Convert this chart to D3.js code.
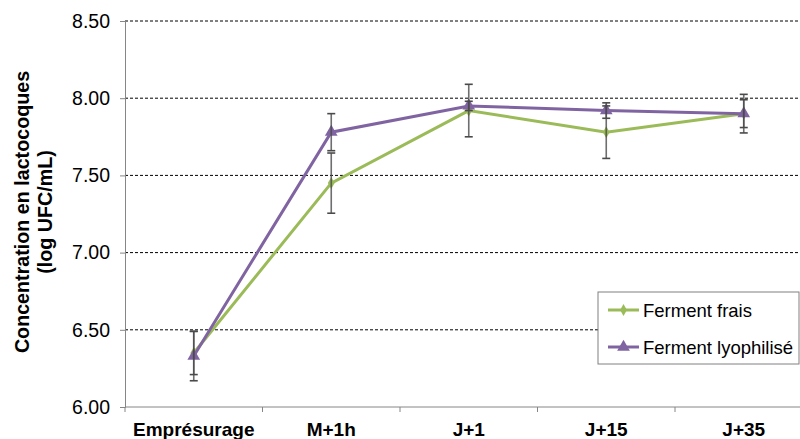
<!DOCTYPE html>
<html><head><meta charset="utf-8">
<script src="https://cdn.jsdelivr.net/npm/d3@7"></script>
<style>html,body{margin:0;padding:0;background:#fff;}svg{display:block;font-family:"Liberation Sans",Arial,sans-serif;}</style>
</head><body><svg id="c" width="800" height="439"></svg>
<script>
const categories = ["Empr\u00e9surage","M+1h","J+1","J+15","J+35"];
const fraisValues = [6.35, 7.45, 7.92, 7.78, 7.90];
const fraisErrors = [0.14, 0.195, 0.17, 0.17, 0.125];
const lyoValues = [6.33, 7.78, 7.95, 7.92, 7.90];
const lyoErrors = [0.16, 0.12, 0.03, 0.05, 0.09];
const yTicks = [6.00, 6.50, 7.00, 7.50, 8.00, 8.50];
const seriesNames = ["Ferment frais","Ferment lyophilis\u00e9"];

const svg = d3.select("#c");
const x = d3.scaleBand().domain(categories).range([125, 812.5]);
const y = d3.scaleLinear().domain([6, 8.5]).range([407, 21]);
const cx = d => x(d) + x.bandwidth()/2;

// gridlines
svg.append("g").selectAll("line").data(yTicks.filter(v => v > 6)).join("line")
  .attr("x1", 125).attr("x2", 800).attr("y1", d => y(d)).attr("y2", d => y(d))
  .attr("stroke", "#000").attr("stroke-width", 1).attr("stroke-dasharray", "3,2");

// y axis
const yAxis = d3.axisLeft(y).tickValues(yTicks).tickFormat(d3.format(".2f")).tickSizeOuter(0).tickSize(5).tickPadding(10);
const gy = svg.append("g").attr("transform", "translate(125,0)").call(yAxis);
gy.select(".domain").attr("stroke", "#868686");
gy.selectAll(".tick line").attr("stroke", "#868686");
gy.selectAll("text").attr("font-size", "19.5px").attr("fill", "#000").attr("font-family", "Liberation Sans, Arial, sans-serif");

// x axis line and ticks
const gx = svg.append("g");
gx.append("line").attr("x1", 125).attr("x2", 800).attr("y1", 407).attr("y2", 407).attr("stroke", "#868686");
gx.selectAll("line.t").data(categories).join("line").attr("class", "t")
  .attr("x1", d => x(d)).attr("x2", d => x(d)).attr("y1", 407).attr("y2", 412).attr("stroke", "#868686");
gx.selectAll("text").data(categories).join("text")
  .attr("x", d => cx(d)).attr("y", 436).attr("text-anchor", "middle")
  .attr("font-size", "19px").attr("font-weight", "bold").text(d => d);

// axis title
const title = svg.append("text").attr("transform", "translate(0,212) rotate(-90)")
  .attr("text-anchor", "middle").attr("font-size", "19.7px").attr("font-weight", "bold");
title.append("tspan").attr("x", 0).attr("y", 29).text("Concentration en lactocoques");
title.append("tspan").attr("x", 0).attr("y", 52).text("(log UFC/mL)");

const series = [
  {name: seriesNames[0], values: fraisValues, errors: fraisErrors, color: "#9BBB59", marker: "diamond"},
  {name: seriesNames[1], values: lyoValues, errors: lyoErrors, color: "#8064A2", marker: "triangle"}
];

const line = d3.line().x(d => cx(d.c)).y(d => y(d.v));
const markerPath = (type) => type === "diamond"
  ? d3.symbol().type(d3.symbolDiamond).size(40)()
  : d3.symbol().type(d3.symbolTriangle).size(70)();

series.forEach(s => {
  const pts = categories.map((c, i) => ({c, v: s.values[i], e: s.errors[i]}));
  svg.append("path").datum(pts).attr("d", line).attr("fill", "none")
    .attr("stroke", s.color).attr("stroke-width", 3);
  svg.append("g").selectAll("path").data(pts).join("path")
    .attr("d", markerPath(s.marker))
    .attr("transform", d => `translate(${cx(d.c)},${y(d.v)})`)
    .attr("fill", s.color);
});

// error bars
series.forEach(s => {
  const pts = categories.map((c, i) => ({c, v: s.values[i], e: s.errors[i]}));
  const g = svg.append("g").attr("stroke", "#4a4a4a").attr("stroke-width", 1.6);
  g.selectAll("line.v").data(pts).join("line").attr("class", "v")
    .attr("x1", d => cx(d.c)).attr("x2", d => cx(d.c))
    .attr("y1", d => y(d.v + d.e)).attr("y2", d => y(d.v - d.e)).attr("opacity", 0.8);
  ["up", "down"].forEach(k => {
    g.selectAll("line." + k).data(pts).join("line").attr("class", k)
      .attr("x1", d => cx(d.c) - 4).attr("x2", d => cx(d.c) + 4)
      .attr("y1", d => y(k === "up" ? d.v + d.e : d.v - d.e))
      .attr("y2", d => y(k === "up" ? d.v + d.e : d.v - d.e));
  });
});

// legend
const lg = svg.append("g");
lg.append("rect").attr("x", 598).attr("y", 292).attr("width", 201).attr("height", 72)
  .attr("fill", "#fff").attr("stroke", "#808080").attr("stroke-width", 1);
series.forEach((s, i) => {
  const ly = 310 + i * 37;
  lg.append("line").attr("x1", 608).attr("x2", 639).attr("y1", ly).attr("y2", ly)
    .attr("stroke", s.color).attr("stroke-width", 3);
  lg.append("path").attr("d", markerPath(s.marker)).attr("transform", `translate(623.5,${ly})`).attr("fill", s.color);
  lg.append("text").attr("x", 643).attr("y", ly + 6.5).attr("font-size", "18.5px").text(s.name);
});
</script></body></html>
